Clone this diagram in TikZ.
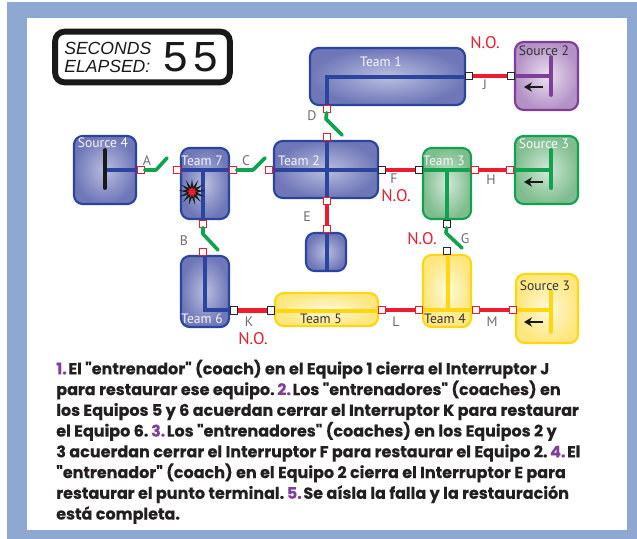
\documentclass[tikz,border=0pt]{standalone}
\usepackage{fontspec}
\setmainfont{PT Sans}
\newfontfamily\parafont[BoldFeatures={FakeBold=0.3}]{Poppins}
\newfontfamily\timerfont{Liberation Sans}
\newfontfamily\digitfont{Liberation Mono}
\usetikzlibrary{arrows.meta,shapes.geometric}
\definecolor{frameblue}{HTML}{8FA8D2}
\definecolor{tbord}{HTML}{2A459B}
\definecolor{tout}{HTML}{6F77B8}
\definecolor{tin}{HTML}{BABEE0}
\definecolor{gbord}{HTML}{12A150}
\definecolor{gout}{HTML}{7FBD8E}
\definecolor{gin}{HTML}{D3E8D8}
\definecolor{pbord}{HTML}{7D3F98}
\definecolor{pout}{HTML}{B491C6}
\definecolor{pin}{HTML}{EBE0F0}
\definecolor{ybord}{HTML}{FDD80F}
\definecolor{yout}{HTML}{FFE67E}
\definecolor{yin}{HTML}{FFF9DC}
\definecolor{redline}{HTML}{EE1C2E}
\definecolor{greenline}{HTML}{0DA44B}
\definecolor{lettergrey}{HTML}{6D6E71}
\definecolor{numpurple}{HTML}{7D3F98}
\definecolor{paratext}{HTML}{231F20}
\tikzset{
  unitbox/.style={rectangle,rounded corners=6.5pt,line width=1.6pt,inner sep=0pt,outer sep=0pt},
  bluebox/.style={unitbox,draw=tbord,inner color=tin,outer color=tout},
  greenbox/.style={unitbox,draw=gbord,inner color=gin,outer color=gout},
  purplebox/.style={unitbox,draw=pbord,inner color=pin,outer color=pout},
  yellowbox/.style={unitbox,draw=ybord,inner color=yin,outer color=yout},
  sw/.style={rectangle,draw=redline,fill=white,line width=0.9pt,minimum size=5.6pt,inner sep=0pt,outer sep=0pt},
  swk/.style={sw,draw=black!85},
  bus/.style={line width=2.9pt},
  tie/.style={line width=3.2pt,draw=redline},
  open/.style={line width=2.7pt,draw=greenline,line cap=round,line join=round},
  unitlabel/.style={font=\fontsize{10.2}{12}\selectfont,inner sep=0pt,text=white!88!tin},
  darklabel/.style={unitlabel,text=black!80},
  swlabel/.style={font=\fontsize{10.4}{12}\selectfont,inner sep=0pt,text=lettergrey},
  nolabel/.style={font=\fontsize{12.6}{13}\selectfont,inner sep=0pt,text=redline},
  flow/.style={line width=1.9pt,-{Stealth[length=6pt,width=7pt]},black!90},
}
\newcommand{\ubox}[6]{%
  \pgfmathsetmacro{\ubw}{(#4-#2-2)*0.75}%
  \pgfmathsetmacro{\ubh}{(#5-#3-2)*0.75}%
  \node[#6,minimum width=\ubw pt,minimum height=\ubh pt] (#1) at ({(#2+#4)/2},{(#3+#5)/2}) {};}
\newcommand{\nm}[1]{\textcolor{numpurple}{#1}\hspace{0.1em}}
\begin{document}
\begin{tikzpicture}[x=0.75pt,y=-0.75pt]
\useasboundingbox (0,0) rectangle (637,539);
\fill[frameblue] (7,2) rectangle (637,539);
\fill[white] (27,18) rectangle (627,530);
% timer
\node[rectangle,draw=black!90,fill=white,line width=4.4pt,rounded corners=7pt,minimum width=131pt,minimum height=38pt,inner sep=0pt] (timer) at (142.5,57) {};
\node[inner sep=0pt,anchor=west,align=left,font={\timerfont\itshape\fontsize{13.2}{13}\selectfont},text=black!90] (tlabel) at (64,57.5) {SECONDS\\ELAPSED:};
\node[inner sep=0pt,font={\digitfont\fontsize{33}{33}\selectfont},text=black!90] (tdigits) at (191,57) {5\hspace{2.5pt}5};
% boxes
\ubox{team1}{309}{47}{466}{106}{bluebox}
\ubox{src2}{514}{41}{579}{111}{purplebox}
\ubox{team2}{273}{140}{379}{199}{bluebox}
\ubox{team3}{422}{147}{472}{220}{greenbox}
\ubox{src3g}{514}{135}{579}{205}{greenbox}
\ubox{src4}{73}{135}{137}{205}{bluebox}
\ubox{team7}{180}{147}{230}{220}{bluebox}
\ubox{team6}{180}{255}{230}{328}{bluebox}
\ubox{endpt}{305}{232}{347}{272}{bluebox}
\ubox{team5}{274}{292}{379}{327}{yellowbox}
\ubox{team4}{422}{254}{472}{328}{yellowbox}
\ubox{src3y}{515}{273}{579}{344}{yellowbox}
% junction coordinates
\coordinate (t1a) at (327,105);\coordinate (t1b) at (327,77);\coordinate (t1c) at (466,77);
\coordinate (t2l) at (273,170);\coordinate (t2r) at (379,170);\coordinate (t2t) at (327,140);\coordinate (t2b) at (327,199);
\coordinate (t3l) at (422,170);\coordinate (t3r) at (472,170);\coordinate (t3m) at (447,170);\coordinate (t3b) at (447,220);
\coordinate (t7l) at (180,170);\coordinate (t7r) at (230,170);\coordinate (t7m) at (203,170);\coordinate (t7b) at (203,220);
\coordinate (t6t) at (205,255);\coordinate (t6m) at (205,310);\coordinate (t6r) at (230,310);
\coordinate (t5l) at (274,311);\coordinate (t5r) at (379,311);
\coordinate (t4t) at (448,254);\coordinate (t4m) at (448,310);\coordinate (t4l) at (422,310);\coordinate (t4r) at (472,310);
\coordinate (ept) at (327,232);\coordinate (epb) at (327,272);
\coordinate (s2l) at (514,76);\coordinate (s2m) at (551,76);\coordinate (s2t) at (551,57);\coordinate (s2b) at (551,95);
\coordinate (sgl) at (514,170);\coordinate (sgm) at (551,170);\coordinate (sgt) at (551,150);\coordinate (sgb) at (551,188);
\coordinate (syl) at (515,310);\coordinate (sym) at (551,310);\coordinate (syt) at (551,291);\coordinate (syb) at (551,332);
\coordinate (s4r) at (137,170);\coordinate (s4m) at (105,170);\coordinate (s4t) at (105,150);\coordinate (s4b) at (105,188);
% buses
\draw[bus,tbord,line join=miter] (t1a) -- (t1b) -- (t1c);
\draw[bus,tbord] (t2l) -- (t2r);
\draw[bus,tbord] (t2t) -- (t2b);
\draw[bus,gbord] (t3l) -- (t3r);
\draw[bus,gbord] (t3m) -- (t3b);
\draw[bus,tbord] (t7l) -- (t7r);
\draw[bus,tbord] (t7m) -- (t7b);
\draw[bus,tbord] (t6t) -- (t6m) -- (t6r);
\draw[bus,ybord] (t5l) -- (t5r);
\draw[bus,ybord] (t4t) -- (t4m);
\draw[bus,ybord] (t4l) -- (t4r);
\draw[bus,tbord] (ept) -- (epb);
\draw[bus,pbord] (s2l) -- (s2m);
\draw[bus,pbord,line cap=round] (s2t) -- (s2b);
\draw[bus,gbord] (sgl) -- (sgm);
\draw[bus,gbord,line cap=round] (sgt) -- (sgb);
\draw[bus,ybord] (syl) -- (sym);
\draw[bus,ybord,line cap=round] (syt) -- (syb);
\draw[bus,tbord] (s4r) -- (s4m);
\draw[bus,black!90,line cap=round] (s4t) -- (s4b);
% source arrows
\coordinate (a2s) at (543,87);\coordinate (a2e) at (524,87);
\coordinate (a3s) at (543,182);\coordinate (a3e) at (524,182);
\coordinate (a4s) at (543,322);\coordinate (a4e) at (524,322);
\draw[flow] (a2s) -- (a2e);
\draw[flow] (a3s) -- (a3e);
\draw[flow] (a4s) -- (a4e);
% switches
\node[swk] (Ja) at (469,76) {};\node[swk] (Jb) at (511,76) {};
\node[swk] (Fa) at (382,170) {};\node[swk] (Fb) at (419,170) {};
\node[sw] (Ha) at (475,170) {};\node[sw] (Hb) at (510,170) {};
\node[sw] (Ea) at (327,201) {};\node[sw] (Eb) at (327,229) {};
\node[sw] (La) at (382,310) {};\node[sw] (Lb) at (419,310) {};
\node[sw] (Ma) at (476,310) {};\node[sw] (Mb) at (513,310) {};
\node[swk] (Ka) at (234,310.5) {};\node[swk] (Kb) at (271,310.5) {};
\node[sw] (Da) at (327,109) {};\node[sw] (Db) at (327,137) {};
\node[swk] (Ga) at (447,224) {};\node[swk] (Gb) at (447,251) {};
\node[sw] (Ba) at (203,224) {};\node[sw] (Bb) at (203,252) {};
\node[sw] (Aa) at (141,170) {};\node[sw] (Ab) at (177,170) {};
\node[sw] (Ca) at (233,170) {};\node[sw] (Cb) at (269,170) {};
% closed ties
\draw[tie] (Ja) -- (Jb);
\draw[tie] (Fa) -- (Fb);
\draw[tie] (Ha) -- (Hb);
\draw[tie] (Ea) -- (Eb);
\draw[tie] (La) -- (Lb);
\draw[tie] (Ma) -- (Mb);
\draw[tie] (Ka) -- (Kb);
% open switches
\coordinate (Dk) at (326,119);\coordinate (De) at (342,135);
\coordinate (Gk) at (446,233);\coordinate (Ge) at (462,248);
\coordinate (Bk) at (203,234);\coordinate (Be) at (218,250);
\coordinate (Ak) at (156,170);\coordinate (Ae) at (167,158);
\coordinate (Ck) at (253,170);\coordinate (Ce) at (265,158);
\draw[open] (Da) -- (Dk) -- (De);
\draw[open] (Ga) -- (Gk) -- (Ge);
\draw[open] (Ba) -- (Bk) -- (Be);
\draw[open] (Aa) -- (Ak) -- (Ae);
\draw[open] (Ca) -- (Ck) -- (Ce);
% fault
\node[star,star points=13,star point ratio=2.6,fill=black!90,minimum size=20pt,inner sep=0pt] (burst) at (192,192) {};
\node[star,star points=9,star point ratio=1.9,fill=redline,minimum size=8pt,inner sep=0pt] (burstcore) at (192,192) {};
% unit labels
\node[unitlabel] (lt1) at (381,62) {Team 1};
\node[darklabel] (ls2) at (544,51) {Source 2};
\node[unitlabel] (ls3) at (544,144) {Source 3};
\node[unitlabel] (ls4) at (103,143) {Source 4};
\node[unitlabel] (lt2) at (299,161) {Team 2};
\node[unitlabel] (lt3) at (444,161) {Team 3};
\node[unitlabel] (lt7) at (202,161) {Team 7};
\node[unitlabel] (lt6) at (202,319) {Team 6};
\node[darklabel] (lt5) at (321,319) {Team 5};
\node[darklabel] (lt4) at (445,319) {Team 4};
\node[darklabel] (ly3) at (545,286) {Source 3};
% switch labels
\node[swlabel] (lA) at (147,161) {A};
\node[swlabel] (lB) at (184,241) {B};
\node[swlabel] (lC) at (246,161) {C};
\node[swlabel] (lD) at (312,116) {D};
\node[swlabel] (lE) at (307,217) {E};
\node[swlabel] (lF) at (394,179) {F};
\node[swlabel] (lG) at (465,239) {G};
\node[swlabel] (lH) at (491,180) {H};
\node[swlabel] (lJ) at (485,85) {J};
\node[swlabel] (lK) at (249,322) {K};
\node[swlabel] (lL) at (396,322) {L};
\node[swlabel] (lM) at (492,322) {M};
\node[nolabel] (no1) at (485,43) {N.O.};
\node[nolabel] (no2) at (396,196) {N.O.};
\node[nolabel] (no3) at (253,339) {N.O.};
\node[nolabel] (no4) at (422,239) {N.O.};
% caption
\node[inner sep=0pt,anchor=north west,align=left,text=paratext,font={\parafont\bfseries\fontsize{12}{15.55}\selectfont}] (caption) at (56,359.5) {%
\nm{1.}El "entrenador" (coach) en el Equipo 1 cierra el Interruptor J\\
para restaurar ese equipo.\,\nm{2.}Los "entrenadores" (coaches) en\\
los Equipos 5 y 6 acuerdan cerrar el Interruptor K para restaurar\\
el Equipo 6.\,\nm{3.}Los "entrenadores" (coaches) en los Equipos 2 y\\
3 acuerdan cerrar el Interruptor F para restaurar el Equipo 2.\,\nm{4.}El\\
"entrenador" (coach) en el Equipo 2 cierra el Interruptor E para\\
restaurar el punto terminal.\,\nm{5.}Se aísla la falla y la restauración\\
está completa.};
\end{tikzpicture}
\end{document}
